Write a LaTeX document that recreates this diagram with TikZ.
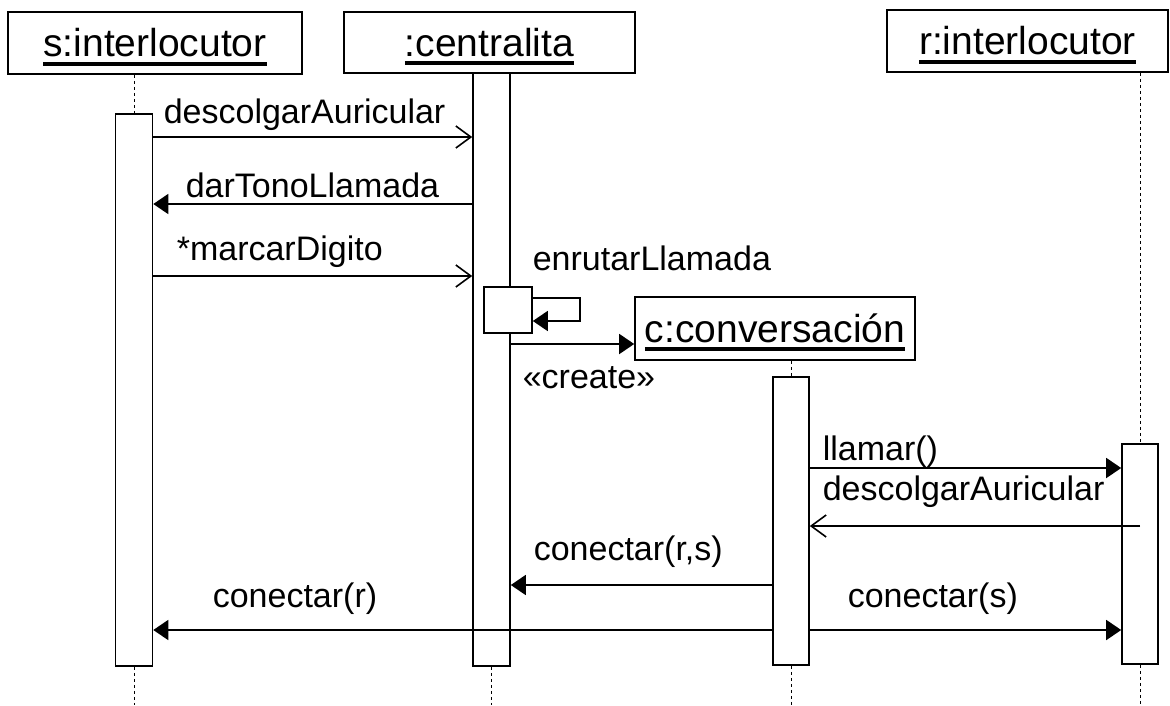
\documentclass[tikz,border=0pt]{standalone}
\usepackage{fontspec}
\setmainfont{Liberation Sans}
\usetikzlibrary{arrows.meta, positioning}

\newcommand{\ulname}[1]{\setbox0=\hbox{#1}\rule{0pt}{36pt}\rlap{\rule[-9pt]{\wd0}{4pt}}\box0}

\begin{document}
\begin{tikzpicture}[x=1pt, y=-1pt, line width=1.6pt,
    obj/.style={draw, rectangle, inner sep=0pt, font=\fontsize{39}{44}\selectfont},
    act/.style={draw, fill=white, rectangle, inner sep=0pt, minimum width=37pt},
    life/.style={line width=0.8pt, dash pattern=on 3pt off 3pt},
    call/.style={-{Triangle[length=15pt,width=20pt]}},
    send/.style={-{Straight Barb[length=15pt,width=22pt]}},
    msg/.style={anchor=base west, inner sep=0pt, font=\fontsize{34}{40}\selectfont},]

\useasboundingbox (0,0) rectangle (1170,705);

\node[obj, minimum width=294pt, minimum height=62pt] (sObj) at (155,43) {\ulname{s:interlocutor}};
\node[obj, minimum width=291pt, minimum height=61pt] (cObj) at (489.5,42.5) {\ulname{:centralita}};
\node[obj, minimum width=281pt, minimum height=62pt] (rObj) at (1027.5,41) {\ulname{r:interlocutor}};
\node[obj, minimum width=280pt, minimum height=63pt] (vObj) at (775,328.5) {\ulname{c:conversación}};

\coordinate (bot) at (0,705);
\coordinate (m1) at (0,137);
\coordinate (m2) at (0,204);
\coordinate (m3) at (0,276);
\coordinate (m4) at (0,344);
\coordinate (m5) at (0,468);
\coordinate (m6) at (0,526);
\coordinate (m7) at (0,585);
\coordinate (m8) at (0,630);

\node[act, minimum height=552pt] (sAct) at (134,390) {};
\node[act, minimum height=593pt] (cAct) at (491.5,369.5) {};
\node[act, minimum width=48pt, minimum height=46pt] (selfAct) at (508,310) {};
\node[act, minimum width=36pt, minimum height=288pt] (vAct) at (791,521) {};
\node[act, minimum width=36pt, minimum height=220pt] (rAct) at (1140,554) {};

\draw[life] (sAct.north |- sObj.south) -- (sAct.north);
\draw[life] (sAct.south) -- (sAct.south |- bot);
\draw[life] (cAct.south) -- (cAct.south |- bot);
\draw[life] (vAct.north |- vObj.south) -- (vAct.north);
\draw[life] (vAct.south) -- (vAct.south |- bot);
\draw[life] (rAct.north |- rObj.south) -- (rAct.north);
\draw[life] (rAct.south) -- (rAct.south |- bot);

\node[msg] (t1) at (163,123) {descolgarAuricular};
\node[msg] (t2) at (185,197) {darTonoLlamada};
\node[msg] (t3) at (176,260) {*marcarDigito};
\node[msg] (t4) at (532,270) {enrutarLlamada};
\node[msg] (t5) at (522,388) {«create»};
\node[msg] (t6) at (822,460) {llamar()};
\node[msg] (t7) at (822,500) {descolgarAuricular};
\node[msg] (t8) at (533,560) {conectar(r,s)};
\node[msg] (t9) at (847,607) {conectar(s)};
\node[msg] (t10) at (212,607) {conectar(r)};

\draw[send] (sAct.east |- m1) -- (cAct.west |- m1);
\draw[call] (cAct.west |- m2) -- (sAct.east |- m2);
\draw[send] (sAct.east |- m3) -- (cAct.west |- m3);
\draw[call] ([yshift=12pt]selfAct.east) -- ++(47,0) -- ++(0,23) -- ([yshift=-11pt]selfAct.east);
\draw[call] (cAct.east |- m4) -- (vObj.west |- m4);
\draw[call] (vAct.east |- m5) -- (rAct.west |- m5);
\draw[send] (rAct.center |- m6) -- (vAct.east |- m6);
\draw[call] (vAct.west |- m7) -- (cAct.east |- m7);
\draw[call] (vAct.east |- m8) -- (rAct.west |- m8);
\draw[call] (vAct.west |- m8) -- (sAct.east |- m8);
\end{tikzpicture}
\end{document}
